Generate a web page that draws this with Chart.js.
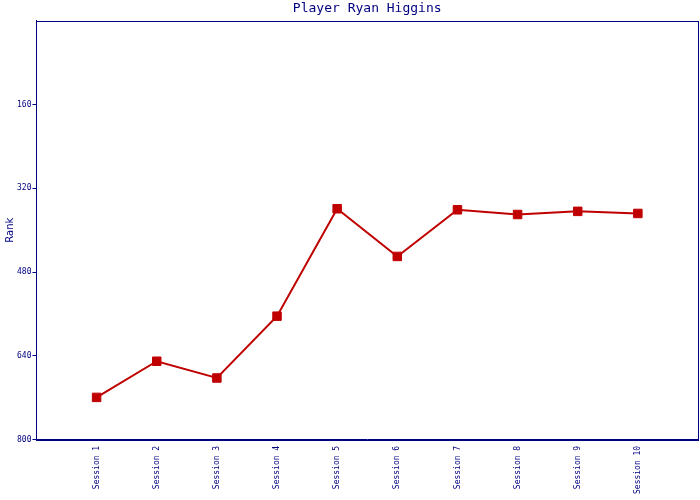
<!DOCTYPE html>
<html>
<head>
<meta charset="utf-8">
<script src="https://cdn.jsdelivr.net/npm/chart.js@4"></script>
<style>
    body { margin: 0; background: #fff; }
    #wrap { width: 700px; height: 500px; }
</style>
</head>
<body>
<div id="wrap"><canvas id="rankChart"></canvas></div>
<script>
var sessions = ['Session 1', 'Session 2', 'Session 3', 'Session 4', 'Session 5',
                'Session 6', 'Session 7', 'Session 8', 'Session 9', 'Session 10'];
var ranks = [719, 650, 682, 564, 359, 450, 361, 370, 364, 368];
var rankTicks = [160, 320, 480, 640, 800];

var navy = '#000080';
var mono = "'DejaVu Sans Mono', monospace";

// box around the whole plot area
var frame = {
    id: 'frame',
    afterDraw: function(chart) {
        var a = chart.chartArea, ctx = chart.ctx;
        ctx.save();
        ctx.strokeStyle = navy;
        ctx.lineWidth = 1;
        ctx.strokeRect(Math.round(a.left) + 0.5, Math.round(a.top) + 0.5,
                       Math.round(a.right - a.left), Math.round(a.bottom - a.top));
        ctx.restore();
    }
};

var ctx = document.getElementById('rankChart').getContext('2d');
var myRankChart = new Chart(ctx, {
    type: 'line',
    data: {
        datasets: [{
            label: 'Rank',
            data: ranks.map(function(r, i) { return { x: i + 1, y: r }; }),
            borderColor: '#c00000',
            backgroundColor: '#c00000',
            borderWidth: 2,
            pointStyle: 'rect',
            pointRadius: 6,
            pointBorderWidth: 1,
            tension: 0
        }]
    },
    options: {
        responsive: true,
        maintainAspectRatio: false,
        animation: false,
        layout: { autoPadding: false, padding: { left: 4, right: 2, top: 0, bottom: 0 } },
        plugins: {
            legend: { display: false },
            tooltip: { enabled: false },
            title: {
                display: true,
                text: 'Player Ryan Higgins',
                color: navy,
                fullSize: false,
                font: { family: mono, size: 13, weight: 'normal' },
                padding: { top: 1, bottom: 4 }
            }
        },
        scales: {
            x: {
                type: 'linear',
                min: 0,
                max: 11,
                afterBuildTicks: function(scale) {
                    scale.ticks = sessions.map(function(s, i) { return { value: i + 1 }; });
                },
                afterFit: function(scale) {
                    scale.paddingLeft = 0;
                    scale.paddingRight = 0;
                },
                ticks: {
                    color: navy,
                    font: { family: mono, size: 8 },
                    minRotation: 90,
                    maxRotation: 90,
                    padding: 6,
                    autoSkip: false,
                    callback: function(v) { return sessions[v - 1]; }
                },
                grid: { display: false, drawTicks: false },
                border: { display: true, color: navy, width: 1 }
            },
            y: {
                type: 'linear',
                reverse: true,
                min: 0,
                max: 800,
                afterBuildTicks: function(scale) {
                    scale.ticks = rankTicks.map(function(v) { return { value: v }; });
                },
                title: {
                    display: true,
                    text: 'Rank',
                    color: navy,
                    font: { family: "'DejaVu Sans', sans-serif", size: 10 },
                    padding: 0
                },
                ticks: {
                    color: navy,
                    font: { family: mono, size: 8 },
                    padding: 1
                },
                grid: {
                    drawOnChartArea: false,
                    tickLength: 4,
                    color: navy
                },
                border: { display: true, color: navy, width: 1 }
            }
        }
    },
    plugins: [frame]
});
</script>
</body>
</html>
